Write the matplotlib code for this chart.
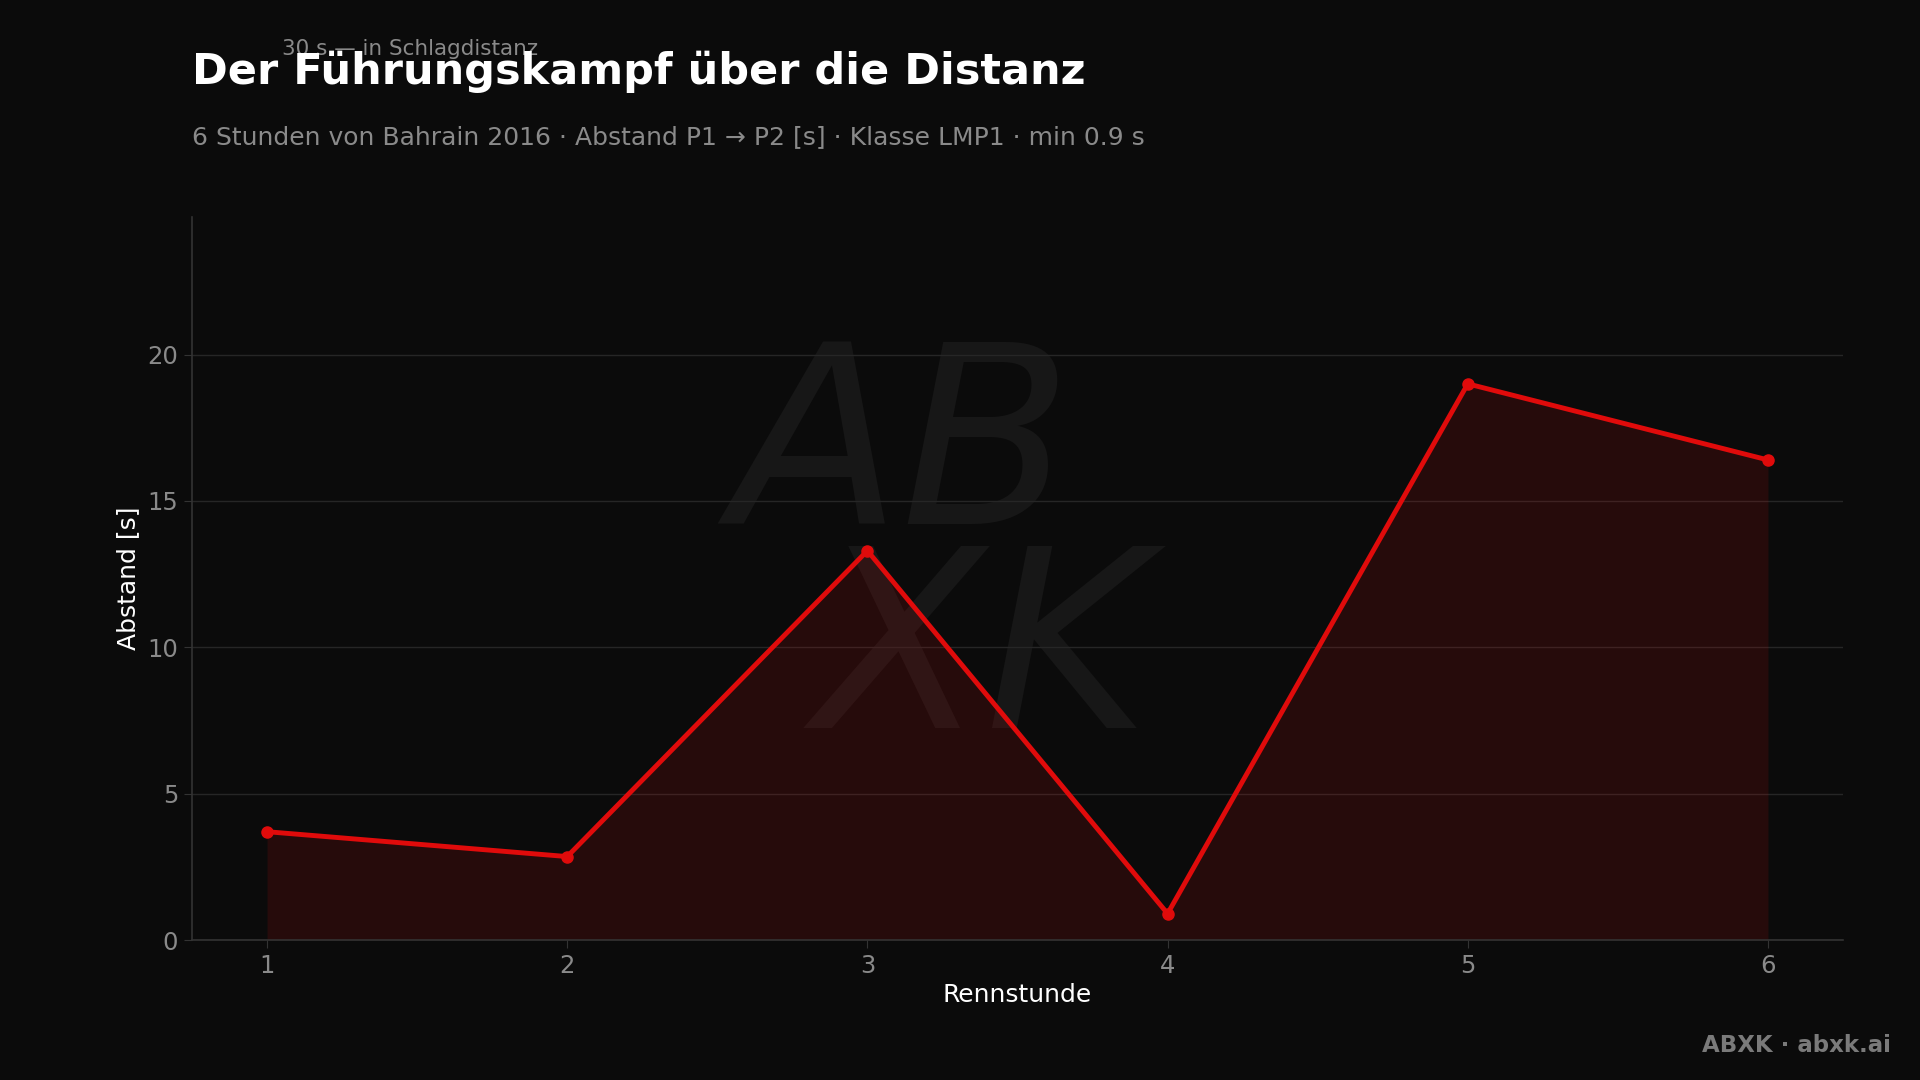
import matplotlib.pyplot as plt
import numpy as np

# Data: gap P1 -> P2 per race hour
stunden = [1, 2, 3, 4, 5, 6]
abstand = [3.7, 2.85, 13.3, 0.9, 19.0, 16.4]
y_ticks = [0, 5, 10, 15, 20]

bg = '#0b0b0b'
red = '#e00b0b'

fig = plt.figure(figsize=(19.2, 10.8), dpi=100, facecolor=bg)
ax = fig.add_axes([192/1920, 1 - 940/1080, (1843-192)/1920, (940-217)/1080])
ax.set_facecolor(bg)

# watermark (approximation of the ABXK signature)
ax.text(0.43, 0.53, 'AB\n  XK', transform=ax.transAxes, fontsize=180, style='italic',
        color='#171717', ha='center', va='center', zorder=0, linespacing=0.8)

ax.fill_between(stunden, abstand, 0, color=red, alpha=0.13, linewidth=0, zorder=2)
ax.plot(stunden, abstand, color=red, linewidth=3.5, marker='o', markersize=8,
        solid_joinstyle='miter', zorder=3)

ax.set_xlim(0.75, 6.25)
ax.set_ylim(0, max(abstand) * 1.3)
ax.set_xticks(stunden)
ax.set_yticks(y_ticks)
ax.grid(axis='y', color='#262626', linewidth=1)
ax.set_axisbelow(True)

for s in ['top', 'right']:
    ax.spines[s].set_visible(False)
for s in ['left', 'bottom']:
    ax.spines[s].set_color('#333333')
    ax.spines[s].set_linewidth(1.2)

ax.tick_params(colors='#333333', labelcolor='#8a8a8a', labelsize=17.5, length=6, pad=4)
ax.set_xlabel('Rennstunde', color='white', fontsize=18, labelpad=4)
ax.set_ylabel('Abstand [s]', color='white', fontsize=18, labelpad=5)

# titles
fig.text(192/1920, 1 - 72/1080, 'Der Führungskampf über die Distanz', color='white',
         fontsize=31, fontweight='bold', va='center', ha='left')
fig.text(192/1920, 1 - 137/1080,
         '6 Stunden von Bahrain 2016 · Abstand P1 → P2 [s] · Klasse LMP1 · min 0.9 s',
         color='#8a8a8a', fontsize=18, va='center', ha='left')
fig.text(282/1920, 1 - 49/1080, '30 s — in Schlagdistanz', color='#8a8a8a',
         fontsize=15.5, va='center', ha='left', zorder=0)
fig.text(1891/1920, 1 - 1045/1080, 'ABXK · abxk.ai', color='#7a7a7a',
         fontsize=16.5, fontweight='bold', va='center', ha='right')

fig.savefig('out.png', dpi=100, facecolor=bg)
